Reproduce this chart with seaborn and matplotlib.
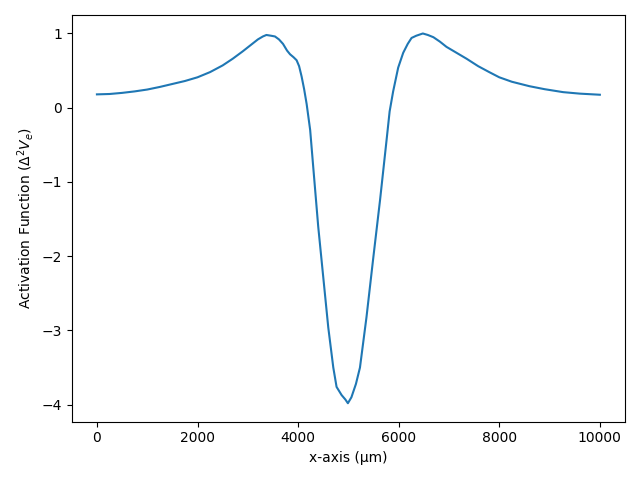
import numpy as np
import seaborn as sns
import matplotlib
matplotlib.use("Agg")
import matplotlib.pyplot as plt

# position along the axis (um) and activation function values
x_um = [0, 250, 500, 750, 1000, 1250, 1500, 1750, 2000, 2250, 2500, 2700,
        2900, 3050, 3200, 3300, 3370, 3460, 3540, 3620, 3700, 3780, 3840,
        3910, 3970, 4020, 4070, 4120, 4170, 4240, 4300, 4400, 4500, 4600,
        4700, 4765, 4865, 4940, 4990, 5060, 5150, 5230, 5360, 5490, 5630,
        5760, 5820, 5890, 5990, 6090, 6180, 6256, 6350, 6480, 6580, 6690,
        6820, 6950, 7150, 7350, 7580, 7800, 8000, 8250, 8600, 8900, 9270,
        9600, 10000]
act_fn = [0.18, 0.185, 0.20, 0.22, 0.245, 0.28, 0.32, 0.36, 0.41, 0.48, 0.57,
          0.66, 0.76, 0.84, 0.92, 0.96, 0.98, 0.97, 0.96, 0.92, 0.86, 0.77,
          0.72, 0.68, 0.64, 0.56, 0.42, 0.25, 0.05, -0.30, -0.79, -1.60,
          -2.28, -2.96, -3.50, -3.76, -3.87, -3.93, -3.98, -3.90, -3.72,
          -3.50, -2.82, -2.05, -1.24, -0.43, -0.05, 0.22, 0.54, 0.74, 0.86,
          0.94, 0.97, 1.00, 0.98, 0.95, 0.89, 0.82, 0.74, 0.66, 0.56, 0.48,
          0.41, 0.35, 0.29, 0.25, 0.21, 0.19, 0.175]

fig, ax = plt.subplots(figsize=(6.4, 4.8), dpi=100)
sns.lineplot(x=x_um, y=act_fn, ax=ax)
ax.set_xlabel("x-axis (\u03bcm)")
ax.set_ylabel(r"Activation Function ($\Delta^2 V_e$)")
fig.tight_layout()
fig.savefig("out.png")
